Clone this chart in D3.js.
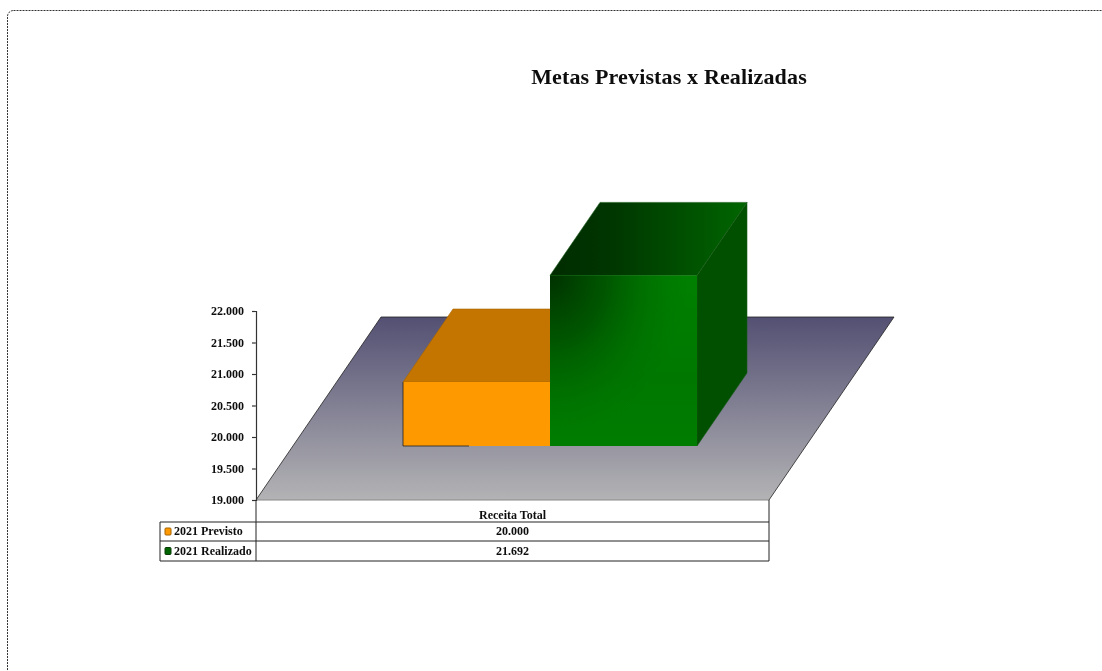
<!DOCTYPE html>
<html>
<head>
<meta charset="utf-8">
<script src="https://cdn.jsdelivr.net/npm/d3@7/dist/d3.min.js"></script>
<style>
  html, body { margin: 0; padding: 0; background: #fff; overflow: hidden; }
  text { font-family: "Liberation Serif", serif; font-weight: bold; fill: #111; }
</style>
</head>
<body>
<div id="chart"></div>
<script>
// Chart values
let chartTitle = "Metas Previstas x Realizadas";
let categories = ["Receita Total"];
let seriesNames = ["2021 Previsto", "2021 Realizado"];
let seriesValues = [20000, 21692];
let tickValues = [19000, 19500, 20000, 20500, 21000, 21500, 22000];

let svgWidth = 1102;
let svgHeight = 671;

let svg = d3.select("#chart").append("svg")
  .attr("width", svgWidth)
  .attr("height", svgHeight)
  .style("display", "block");

let ptBR = d3.formatLocale({ decimal: ",", thousands: ".", grouping: [3], currency: ["R$", ""] });
let fmt = ptBR.format(",d");

// Scales
let yScale = d3.scaleLinear().domain([19000, 22000]).range([500, 311]);
let xScale = d3.scaleBand().domain(seriesNames).range([256, 769]).paddingInner(0).paddingOuter(0.745);

// Oblique projection of the floor and the bars
let floorDepth = { x: 125, y: -183 };
let barLift = { x: 37.5, y: -54 };
let barDepth = { x: 50, y: -73 };
let left = 256, right = 769, base = yScale(19000);
let rowLines = [500, 522, 541, 561];
let labelColLeft = 160;

let defs = svg.append("defs");

function linear(id, x1, y1, x2, y2, stops) {
  let g = defs.append("linearGradient").attr("id", id)
    .attr("x1", x1).attr("y1", y1).attr("x2", x2).attr("y2", y2);
  stops.forEach(s => g.append("stop").attr("offset", s[0]).attr("stop-color", s[1]));
}

linear("floorGrad", 0, 0, 0, 1, [[0, "#535073"], [1, "#b3b3b5"]]);
linear("greenTop", 0, 0, 1, 0, [[0, "#002c00"], [0.3, "#003500"], [1, "#006600"]]);
linear("greenFront", 0, 0, 0, 1, [[0, "#008000"], [0.6, "#007800"], [1, "#007c00"]]);
let shade = defs.append("radialGradient").attr("id", "greenShade")
  .attr("cx", 0).attr("cy", 0).attr("r", 0.95);
shade.append("stop").attr("offset", 0).attr("stop-color", "#003000").attr("stop-opacity", 1);
shade.append("stop").attr("offset", 0.4).attr("stop-color", "#004800").attr("stop-opacity", 0.75);
shade.append("stop").attr("offset", 1).attr("stop-color", "#007000").attr("stop-opacity", 0);

let softBlur = defs.append("filter").attr("id", "soft");
softBlur.append("feGaussianBlur").attr("stdDeviation", 0.4);

// Outer dotted frame, runs off the page on the right and the bottom
svg.append("rect")
  .attr("x", 7.5).attr("y", 10.5)
  .attr("width", 1300).attr("height", 900)
  .attr("rx", 6)
  .attr("fill", "none")
  .attr("stroke", "#333")
  .attr("stroke-dasharray", "2,1");

svg.append("text")
  .attr("x", 669)
  .attr("y", 84)
  .attr("text-anchor", "middle")
  .attr("font-size", 22)
  .attr("letter-spacing", 0.15)
  .attr("filter", "url(#soft)")
  .text(chartTitle);

let poly = pts => pts.map(p => p.join(",")).join(" ");

// Floor
svg.append("polygon")
  .attr("points", poly([
    [left, base], [right, base],
    [right + floorDepth.x, base + floorDepth.y],
    [left + floorDepth.x, base + floorDepth.y]
  ]))
  .attr("fill", "url(#floorGrad)")
  .attr("stroke", "none");
svg.append("path")
  .attr("d", `M${left},${base}L${left + floorDepth.x},${base + floorDepth.y}H${right + floorDepth.x}L${right},${base}`)
  .attr("fill", "none").attr("stroke", "#222").attr("stroke-width", 0.8);
svg.append("line")
  .attr("x1", left).attr("x2", right).attr("y1", base).attr("y2", base)
  .attr("stroke", "#888");

// Bars
let barColors = [
  { front: "#ff9900", top: "#c47500", side: "#a86400", line: "#a86400" },
  { front: "url(#greenFront)", top: "url(#greenTop)", side: "#005000", line: "#1a5a1a" }
];

let bars = svg.append("g").selectAll("g")
  .data(seriesNames)
  .join("g");

bars.each(function(name, i) {
  let g = d3.select(this);
  let c = barColors[i];
  let x0 = xScale(name) + barLift.x;
  let x1 = x0 + xScale.bandwidth();
  let yTop = yScale(seriesValues[i]) + barLift.y - 1;
  let yBase = base + barLift.y;

  g.append("polygon")
    .attr("points", poly([[x1, yTop], [x1 + barDepth.x, yTop + barDepth.y], [x1 + barDepth.x, yBase + barDepth.y], [x1, yBase]]))
    .attr("fill", c.side).attr("stroke", c.line).attr("stroke-width", 0.6);
  g.append("polygon")
    .attr("points", poly([[x0, yTop], [x0 + barDepth.x, yTop + barDepth.y], [x1 + barDepth.x, yTop + barDepth.y], [x1, yTop]]))
    .attr("fill", c.top).attr("stroke", c.line).attr("stroke-width", 0.6);
  g.append("rect")
    .attr("x", x0).attr("y", yTop)
    .attr("width", x1 - x0).attr("height", yBase - yTop)
    .attr("fill", c.front);
  if (i === 1) {
    g.append("rect")
      .attr("x", x0).attr("y", yTop)
      .attr("width", x1 - x0).attr("height", yBase - yTop)
      .attr("fill", "url(#greenShade)");
  } else {
    // the orange box has a black left edge
    g.append("path")
      .attr("d", `M${x0},${yTop}V${yBase}H${x0 + 66}`)
      .attr("fill", "none").attr("stroke", "#222").attr("stroke-width", 0.8);
  }
});

// Y axis
let axis = svg.append("g")
  .attr("transform", `translate(${left},0)`)
  .call(d3.axisLeft(yScale).tickValues(tickValues).tickFormat(fmt).tickSize(4).tickPadding(8));
axis.selectAll("text")
  .attr("font-size", 12)
  .attr("font-family", "Liberation Serif")
  .attr("font-weight", "bold")
  .attr("filter", "url(#soft)");
axis.selectAll("line").attr("stroke", "#333").attr("stroke-width", 1.2);
axis.select(".domain").attr("stroke", "#333").attr("stroke-width", 1.2);

// Data table under the floor
let table = svg.append("g").attr("stroke", "#222").attr("stroke-width", 1);
table.append("line").attr("x1", left).attr("x2", left).attr("y1", base).attr("y2", rowLines[3]);
table.append("line").attr("x1", right).attr("x2", right).attr("y1", base).attr("y2", rowLines[3]);
table.append("line").attr("x1", labelColLeft).attr("x2", labelColLeft).attr("y1", rowLines[1]).attr("y2", rowLines[3]);
rowLines.slice(1).forEach(y => {
  table.append("line").attr("x1", labelColLeft).attr("x2", right).attr("y1", y).attr("y2", y);
});

svg.append("text")
  .attr("x", (left + right) / 2)
  .attr("y", 519)
  .attr("text-anchor", "middle")
  .attr("font-size", 12)
  .attr("filter", "url(#soft)")
  .text(categories[0]);

let legendFill = ["#ff9900", "#006400"];
let legendStroke = ["#a86400", "#0a3a0a"];

seriesNames.forEach((name, i) => {
  let yMid = (rowLines[i + 1] + rowLines[i + 2]) / 2;
  svg.append("rect")
    .attr("x", 165).attr("y", yMid - 3.5)
    .attr("width", 6).attr("height", 7)
    .attr("rx", 1)
    .attr("fill", legendFill[i])
    .attr("stroke", legendStroke[i]);
  svg.append("text")
    .attr("x", 174)
    .attr("y", yMid + 3.5)
    .attr("font-size", 12)
    .attr("filter", "url(#soft)")
    .text(name);
  svg.append("text")
    .attr("x", (left + right) / 2)
    .attr("y", yMid + 3.5)
    .attr("text-anchor", "middle")
    .attr("font-size", 12)
    .attr("filter", "url(#soft)")
    .text(fmt(seriesValues[i]));
});
</script>
</body>
</html>
